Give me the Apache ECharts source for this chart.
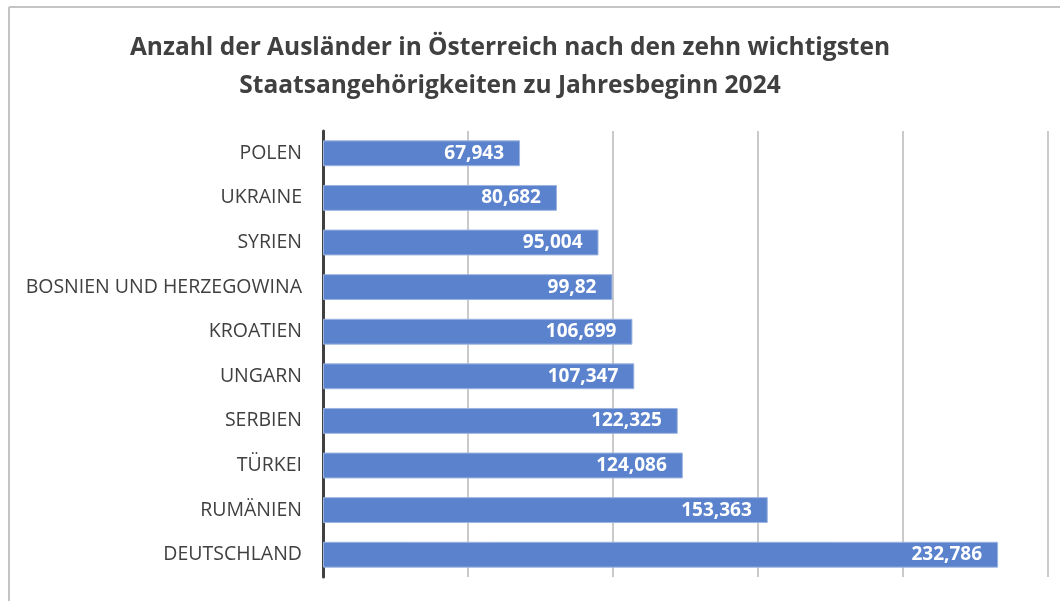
<!DOCTYPE html>
<html>
<head>
<meta charset="utf-8">
<title>Ausländer in Österreich 2024</title>
<script src="https://cdn.jsdelivr.net/npm/echarts@6/dist/echarts.min.js"></script>
<style>
  html, body {
    margin: 0;
    padding: 0;
    background: #fff;
  }
  #chart {
    width: 1060px;
    height: 601px;
  }
</style>
</head>
<body>
<div id="chart"></div>
<script>
// Staatsangehörigkeiten (von oben nach unten)
var countries = ['POLEN', 'UKRAINE', 'SYRIEN', 'BOSNIEN UND HERZEGOWINA', 'KROATIEN',
  'UNGARN', 'SERBIEN', 'TÜRKEI', 'RUMÄNIEN', 'DEUTSCHLAND']
var persons = [67943, 80682, 95004, 99820, 106699, 107347, 122325, 124086, 153363, 232786]
// Beschriftungen wie im Original (99,82 steht so im Bild)
var valueLabels = ['67,943', '80,682', '95,004', '99,82', '106,699',
  '107,347', '122,325', '124,086', '153,363', '232,786']

var myChart = echarts.init(document.getElementById('chart'))
myChart.setOption({
  animation: false,
  title: {
    text: 'Anzahl der Ausländer in Österreich nach den zehn wichtigsten\nStaatsangehörigkeiten zu Jahresbeginn 2024',
    left: 505,
    top: 24,
    textAlign: 'center',
    textStyle: {
      fontFamily: 'Open Sans',
      fontWeight: 'bold',
      fontSize: 24.5,
      lineHeight: 38,
      color: '#404040'
    }
  },
  // Rahmen oben und links
  graphic: [
    { type: 'line', shape: { x1: 9, y1: 7, x2: 1060, y2: 7 }, style: { stroke: '#c4c4c4', lineWidth: 2 } },
    { type: 'line', shape: { x1: 9, y1: 7, x2: 9, y2: 601 }, style: { stroke: '#c4c4c4', lineWidth: 2 } }
  ],
  grid: {
    left: 323,
    right: 12,
    top: 131,
    bottom: 24,
    containLabel: false
  },
  xAxis: {
    type: 'value',
    min: 0,
    max: 250000,
    interval: 50000,
    axisLabel: { show: false },
    axisLine: { show: false },
    axisTick: { show: false },
    splitLine: {
      show: true,
      lineStyle: { color: '#b8b8b8', width: 1.5 }
    }
  },
  yAxis: {
    type: 'category',
    inverse: true,
    data: countries,
    axisTick: { show: false },
    axisLine: {
      show: true,
      lineStyle: { color: '#404040', width: 3 }
    },
    axisLabel: {
      margin: 21,
      fontFamily: 'Open Sans',
      fontSize: 19.5,
      color: '#404040'
    }
  },
  series: [
    {
      name: 'Personen',
      type: 'bar',
      data: persons,
      barCategoryGap: '42%',
      itemStyle: {
        color: '#5b82cc',
        borderColor: '#9cb4e0',
        borderWidth: 1
      },
      label: {
        show: true,
        position: 'insideRight',
        distance: 16,
        fontFamily: 'Open Sans',
        fontWeight: 'bold',
        fontSize: 19,
        color: '#ffffff',
        formatter: function (params) {
          return valueLabels[params.dataIndex]
        }
      }
    }
  ]
})
</script>
</body>
</html>
